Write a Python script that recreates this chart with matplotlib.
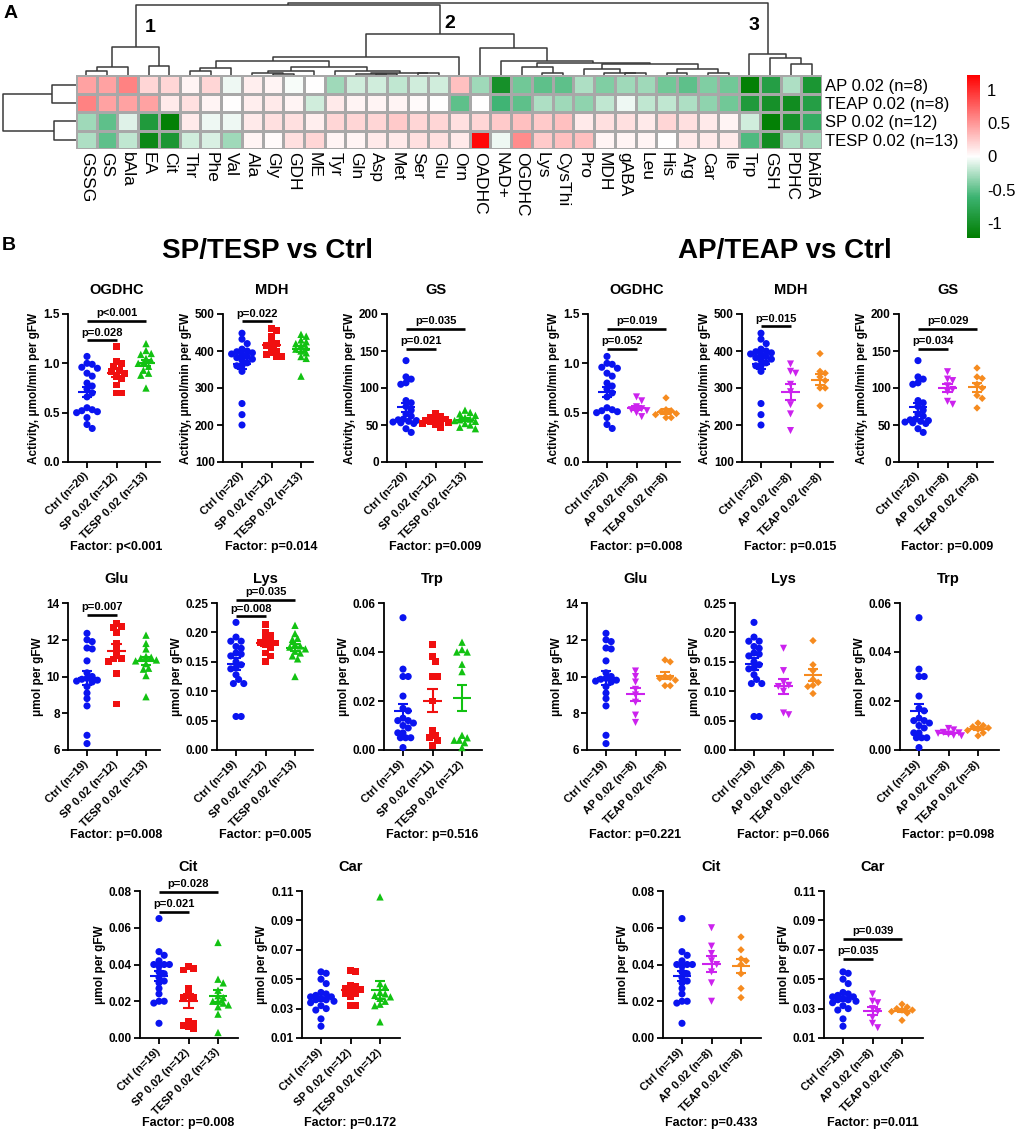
import numpy as np
import matplotlib
matplotlib.use("Agg")
import matplotlib.pyplot as plt
from matplotlib.colors import LinearSegmentedColormap, Normalize
import matplotlib.cm as cm

plt.rcParams['font.family'] = ['Liberation Sans', 'DejaVu Sans']

# ---------------- heatmap data (A) ----------------
hm_cols = ['GSSG', 'GS', 'bAla', 'EA', 'Cit', 'Thr', 'Phe', 'Val', 'Ala', 'Gly', 'GDH', 'ME',
           'Tyr', 'Gln', 'Asp', 'Met', 'Ser', 'Glu', 'Orn', 'OADHC', 'NAD+', 'OGDHC', 'Lys',
           'CysThi', 'Pro', 'MDH', 'gABA', 'Leu', 'His', 'Arg', 'Car', 'Ile', 'Trp', 'GSH',
           'PDHC', 'bAiBA']
hm_rows = ['AP 0.02 (n=8)', 'TEAP 0.02 (n=8)', 'SP 0.02 (n=12)', 'TESP 0.02 (n=13)']
hm_ap = [0.45, 0.45, 0.6, 0.2, 0.2, 0.05, 0.2, -0.05, 0.08, 0.05, -0.02, 0.0, -0.3, -0.15,
         -0.15, -0.2, -0.15, -0.15, 0.3, -0.3, -1.0, -0.45, -0.5, -0.5, -0.25, -0.4, -0.3,
         -0.3, -0.45, -0.5, -0.4, -0.45, -1.2, -0.85, -0.25, -0.95]
hm_teap = [0.6, 0.45, 0.45, 0.45, 0.1, 0.15, 0.05, 0.0, 0.08, 0.1, 0.05, -0.15, 0.1, 0.05,
           0.05, 0.05, 0.02, 0.0, -0.5, 0.0, -0.6, -0.5, -0.25, -0.3, -0.35, -0.2, -0.05,
           -0.2, -0.2, -0.25, -0.35, -0.45, -0.9, -1.0, -1.05, -0.85]
hm_sp = [-0.3, -0.5, -0.1, -0.9, -1.2, 0.1, -0.05, -0.05, 0.1, 0.15, 0.15, 0.08, 0.2, 0.2,
         0.2, 0.25, 0.2, 0.2, 0.15, 0.2, 0.25, 0.3, 0.25, 0.3, 0.1, 0.15, 0.15, 0.1, 0.2,
         0.15, 0.1, 0.05, -0.15, -1.2, -1.0, -0.7]
hm_tesp = [-0.25, -0.5, -0.2, -1.1, -0.95, -0.15, -0.12, -0.3, 0.05, 0.02, 0.15, 0.2, 0.05,
           0.05, 0.1, 0.1, 0.15, 0.15, 0.1, 1.2, -0.05, 0.55, 0.25, 0.3, 0.3, 0.05, 0.05,
           0.05, 0.0, 0.1, 0.1, 0.1, -0.55, -1.05, -0.25, -0.3]

# dendrograms: (child a, child b, height); ids >= n are earlier merges
col_merges = [(0, 1, 4.6), (36, 2, 8.0), (3, 4, 9.3), (37, 38, 28.0),
              (5, 6, 4.6), (40, 7, 7.0), (9, 10, 1.3), (8, 42, 2.0), (43, 11, 4.6),
              (14, 15, 1.0), (13, 45, 1.3), (16, 17, 1.8), (46, 47, 2.6), (12, 48, 4.3),
              (44, 49, 8.0), (41, 50, 14.6), (51, 18, 17.8),
              (22, 23, 2.0), (21, 53, 8.0), (26, 27, 2.0), (25, 55, 2.6), (24, 56, 6.0),
              (28, 29, 2.6), (30, 31, 2.0), (58, 59, 6.0), (57, 60, 11.3), (54, 61, 12.6),
              (20, 62, 14.6), (19, 63, 27.0), (52, 64, 41.0), (39, 65, 70.3),
              (34, 35, 11.0), (33, 67, 17.6), (32, 68, 21.3), (66, 69, 72.6)]
row_merges = [(0, 1, 24.6), (2, 3, 22.3), (4, 5, 73.6)]

# ---------------- scatter data (B) ----------------
ctrl_ogdhc = [1.07, 1.00, 0.99, 0.96, 0.95, 0.90, 0.87, 0.80, 0.77, 0.74, 0.70, 0.66, 0.55,
              0.53, 0.52, 0.51, 0.50, 0.45, 0.38, 0.34]
sp_ogdhc = [1.17, 1.02, 1.00, 0.97, 0.93, 0.92, 0.90, 0.87, 0.85, 0.78, 0.70, 0.70]
tesp_ogdhc = [1.20, 1.13, 1.10, 1.09, 1.05, 1.03, 1.00, 1.00, 0.97, 0.93, 0.90, 0.88, 0.75]
ap_ogdhc = [0.66, 0.62, 0.56, 0.54, 0.53, 0.52, 0.50, 0.46]
teap_ogdhc = [0.65, 0.53, 0.52, 0.51, 0.49, 0.48, 0.45, 0.45]

ctrl_mdh = [448, 432, 420, 405, 400, 398, 392, 390, 395, 385, 382, 378, 375, 368, 360, 360,
            345, 258, 228, 200]
sp_mdh = [460, 455, 440, 425, 420, 415, 410, 400, 395, 390, 385, 385]
tesp_mdh = [445, 440, 430, 425, 420, 415, 410, 405, 400, 395, 385, 380, 332]
ap_mdh = [365, 345, 340, 310, 290, 255, 230, 185]
teap_mdh = [393, 345, 340, 330, 320, 300, 300, 252]

ctrl_gs = [137, 115, 112, 107, 105, 83, 80, 75, 70, 65, 62, 58, 57, 56, 55, 54, 53, 52, 45, 40]
sp_gs = [65, 62, 60, 58, 57, 56, 55, 54, 53, 52, 50, 47]
tesp_gs = [70, 67, 65, 63, 60, 58, 57, 56, 55, 52, 50, 47, 45]
ap_gs = [122, 112, 110, 103, 98, 95, 82, 78]
teap_gs = [127, 115, 113, 105, 100, 90, 86, 73]

ctrl_glu = [12.35, 12.0, 11.9, 11.55, 11.5, 10.85, 10.2, 10.0, 9.9, 9.85, 9.8, 9.75, 9.7,
            9.45, 9.1, 8.8, 8.4, 6.8, 6.35]
sp_glu = [12.9, 12.7, 12.65, 12.4, 11.8, 11.5, 11.2, 11.0, 10.95, 10.8, 10.15, 8.5]
tesp_glu = [12.25, 11.8, 11.5, 11.1, 11.05, 11.0, 10.9, 10.85, 10.7, 10.45, 10.4, 10.05, 8.9]
ap_glu = [10.3, 10.0, 9.7, 9.3, 9.0, 8.6, 7.9, 7.5]
teap_glu = [10.9, 10.8, 10.0, 9.95, 9.9, 9.8, 9.5, 9.5]

ctrl_lys = [0.217, 0.192, 0.185, 0.185, 0.176, 0.173, 0.165, 0.163, 0.160, 0.150, 0.145,
            0.140, 0.138, 0.128, 0.120, 0.113, 0.113, 0.057, 0.057]
sp_lys = [0.214, 0.200, 0.195, 0.190, 0.185, 0.183, 0.182, 0.180, 0.175, 0.165, 0.160, 0.150]
tesp_lys = [0.212, 0.198, 0.190, 0.188, 0.180, 0.177, 0.175, 0.172, 0.168, 0.165, 0.160,
            0.155, 0.125]
ap_lys = [0.173, 0.135, 0.115, 0.110, 0.108, 0.100, 0.063, 0.060]
teap_lys = [0.186, 0.145, 0.135, 0.120, 0.115, 0.110, 0.108, 0.096]

ctrl_trp = [0.054, 0.033, 0.030, 0.030, 0.022, 0.017, 0.016, 0.013, 0.012, 0.012, 0.011,
            0.010, 0.009, 0.007, 0.007, 0.005, 0.005, 0.005, 0.001]
sp_trp = [0.043, 0.038, 0.036, 0.030, 0.030, 0.020, 0.008, 0.006, 0.005, 0.004, 0.002]
tesp_trp = [0.044, 0.041, 0.040, 0.040, 0.035, 0.032, 0.006, 0.005, 0.004, 0.004, 0.003,
            0.001]
ap_trp = [0.0088, 0.0082, 0.0072, 0.0070, 0.0068, 0.0065, 0.0060, 0.0058]
teap_trp = [0.0110, 0.0100, 0.0095, 0.0090, 0.0085, 0.0080, 0.0070, 0.0058]

ctrl_cit = [0.065, 0.047, 0.045, 0.042, 0.040, 0.040, 0.040, 0.039, 0.036, 0.035, 0.033,
            0.031, 0.030, 0.027, 0.024, 0.020, 0.020, 0.019, 0.008]
sp_cit = [0.039, 0.038, 0.037, 0.027, 0.022, 0.022, 0.023, 0.009, 0.008, 0.007, 0.006, 0.005]
tesp_cit = [0.052, 0.032, 0.030, 0.026, 0.023, 0.022, 0.020, 0.020, 0.019, 0.018, 0.017,
            0.013, 0.003]
ap_cit = [0.060, 0.050, 0.046, 0.042, 0.040, 0.036, 0.030, 0.020]
teap_cit = [0.055, 0.048, 0.043, 0.042, 0.040, 0.035, 0.027, 0.022]

ctrl_car = [0.055, 0.054, 0.050, 0.047, 0.041, 0.040, 0.039, 0.038, 0.038, 0.037, 0.036,
            0.036, 0.035, 0.034, 0.032, 0.030, 0.029, 0.023, 0.018]
sp_car = [0.056, 0.055, 0.046, 0.045, 0.044, 0.043, 0.042, 0.040, 0.040, 0.038, 0.032, 0.032]
tesp_car = [0.106, 0.047, 0.045, 0.041, 0.040, 0.039, 0.038, 0.037, 0.035, 0.033, 0.032,
            0.021]
ap_car = [0.040, 0.035, 0.034, 0.030, 0.028, 0.024, 0.020, 0.017]
teap_car = [0.033, 0.031, 0.030, 0.029, 0.029, 0.028, 0.027, 0.022]

# group styles
C_CTRL, C_SP, C_TESP, C_AP, C_TEAP = '#0a14f0', '#f01010', '#12c212', '#cc22ee', '#f68b1f'
sp_style = [('Ctrl', C_CTRL, 'o', 26), ('SP 0.02', C_SP, 's', 24), ('TESP 0.02', C_TESP, '^', 28)]
ap_style = [('Ctrl', C_CTRL, 'o', 26), ('AP 0.02', C_AP, 'v', 26), ('TEAP 0.02', C_TEAP, 'D', 14)]

act_lab = 'Activity, μmol/min per gFW'
conc_lab = 'μmol per gFW'

W, H = 1017, 1132
fig = plt.figure(figsize=(W / 100, H / 100), dpi=100)


def box(x0, y0, x1, y1):
    return [x0 / W, 1 - y1 / H, (x1 - x0) / W, (y1 - y0) / H]


def ftext(x, y, s, **kw):
    fig.text(x / W, 1 - y / H, s, **kw)


def draw_dendro(ax, merges, n, top=True):
    pos = {i: i + 0.5 for i in range(n)}
    hgt = {i: 0.0 for i in range(n)}
    for k, (a, b, h) in enumerate(merges):
        xs = [pos[a], pos[a], pos[b], pos[b]]
        ys = [hgt[a], h, h, hgt[b]]
        if top:
            ax.plot(xs, ys, color='#3a3a3a', lw=1.1, solid_capstyle='butt')
        else:
            ax.plot(ys, xs, color='#3a3a3a', lw=1.1, solid_capstyle='butt')
        pos[n + k] = (pos[a] + pos[b]) / 2
        hgt[n + k] = h


# ---------------- panel A ----------------
cmap = LinearSegmentedColormap.from_list('gwr', [(0, '#007d00'), (0.25, '#3cb371'),
                                                 (0.5, '#ffffff'), (1, '#ff0000')])
norm = Normalize(-1.23, 1.23)

ax_hm = fig.add_axes(box(76, 75.3, 822, 149))
M = np.array([hm_ap, hm_teap, hm_sp, hm_tesp])
ax_hm.pcolormesh(M, cmap=cmap, norm=norm, edgecolors='#a8a8a8', linewidth=0.9)
ax_hm.set_xlim(0, len(hm_cols))
ax_hm.set_ylim(len(hm_rows), 0)
ax_hm.set_xticks(np.arange(len(hm_cols)) + 0.5)
ax_hm.set_xticklabels(hm_cols, rotation=-90, fontsize=12.5, ha='center', va='top')
ax_hm.yaxis.tick_right()
ax_hm.set_yticks(np.arange(len(hm_rows)) + 0.5)
ax_hm.set_yticklabels(hm_rows, fontsize=12)
ax_hm.tick_params(length=0, pad=2)
for s in ax_hm.spines.values():
    s.set_visible(False)

ax_top = fig.add_axes(box(76, 0, 822, 75.3))
draw_dendro(ax_top, col_merges, len(hm_cols), top=True)
ax_top.set_xlim(0, len(hm_cols))
ax_top.set_ylim(0, 75.3)
ax_top.axis('off')

ax_left = fig.add_axes(box(0, 75.3, 76.3, 149))
draw_dendro(ax_left, row_merges, len(hm_rows), top=False)
ax_left.set_xlim(76.3, 0)
ax_left.set_ylim(len(hm_rows), 0)
ax_left.axis('off')

cax = fig.add_axes(box(967, 75, 980, 238))
cb = fig.colorbar(cm.ScalarMappable(norm=norm, cmap=cmap), cax=cax)
cb.outline.set_visible(False)
cb.set_ticks([-1, -0.5, 0, 0.5, 1])
cb.set_ticklabels(['-1', '-0.5', '0', '0.5', '1'])
cax.tick_params(length=0, labelsize=12, pad=5)

ftext(150, 28, '1', fontsize=14, fontweight='bold', ha='center', va='center')
ftext(450, 23, '2', fontsize=14, fontweight='bold', ha='center', va='center')
ftext(754, 26, '3', fontsize=14, fontweight='bold', ha='center', va='center')
ftext(11, 13, 'A', fontsize=14, fontweight='bold', ha='center', va='center')
ftext(9, 245, 'B', fontsize=14, fontweight='bold', ha='center', va='center')
ftext(267, 251, 'SP/TESP vs Ctrl', fontsize=20, fontweight='bold', ha='center', va='center')
ftext(785, 251, 'AP/TEAP vs Ctrl', fontsize=20, fontweight='bold', ha='center', va='center')


# ---------------- panel B ----------------
def swarm_x(ax, xc, vals, d=5.2, maxoff=13.0):
    disp = ax.transData.transform(np.column_stack([np.full(len(vals), xc), vals]))
    x0 = disp[0, 0]
    ys = disp[:, 1]
    placed = []
    offs = np.zeros(len(vals))
    cands = [0.0]
    step = d * 0.5
    k = 1
    while k * step <= maxoff:
        cands += [k * step, -k * step]
        k += 1
    for i in np.argsort(-ys):
        best, bestd = 0.0, -1
        for off in cands:
            md = min([np.hypot(off - px, ys[i] - py) for px, py in placed] + [1e9])
            if md >= d:
                best = off
                break
            if md > bestd:
                best, bestd = off, md
        placed.append((best, ys[i]))
        offs[i] = best
    inv = ax.transData.inverted()
    return inv.transform(np.column_stack([x0 + offs, ys]))[:, 0]


def panel(xy, title, groups, style, ylim, yticks, fmt, ylabel, factor, sig):
    x0, y0, x1, y1 = xy
    ax = fig.add_axes(box(x0, y0, x1, y1))
    sp = 29.5
    ax.set_xlim(-19 / sp, (x1 - x0 - 19) / sp)
    ax.set_ylim(*ylim)
    for gi, (vals, (name, col, mk, ms)) in enumerate(zip(groups, style)):
        v = np.array(vals, dtype=float)
        xs = swarm_x(ax, gi, v)
        ax.scatter(xs, v, s=ms, marker=mk, color=col, edgecolors='none', zorder=3,
                   clip_on=False)
        m = v.mean()
        se = v.std(ddof=1) / np.sqrt(len(v))
        ax.hlines(m, gi - 0.32, gi + 0.32, color=col, lw=1.5, zorder=4)
        ax.vlines(gi, m - se, m + se, color=col, lw=1.5, zorder=4)
        ax.hlines([m - se, m + se], gi - 0.17, gi + 0.17, color=col, lw=1.5, zorder=4)
    labels = ['%s (n=%d)' % (name, len(vals)) for vals, (name, c, mk, ms) in zip(groups, style)]
    ax.set_xticks(range(len(groups)))
    ax.set_xticklabels(labels, rotation=45, ha='right', va='center', rotation_mode='anchor',
                       fontsize=8, fontweight='bold')
    ax.set_yticks(yticks)
    ax.set_yticklabels([fmt.format(t) for t in yticks], fontsize=8.5, fontweight='bold')
    ax.set_ylabel(ylabel, fontsize=8.5, fontweight='bold', labelpad=2)
    for s in ['top', 'right']:
        ax.spines[s].set_visible(False)
    for s in ['left', 'bottom']:
        ax.spines[s].set_linewidth(1.3)
    ax.tick_params(direction='out', length=4, width=1.3, pad=2)
    ax.tick_params(axis='x', pad=5)
    ax.annotate(title, xy=(1, 1), xycoords=('data', 'axes fraction'), xytext=(0, 17.3),
                textcoords='offset points', ha='center', va='center', fontsize=10.5,
                fontweight='bold', annotation_clip=False)
    ax.annotate('Factor: ' + factor, xy=(1, 0), xycoords=('data', 'axes fraction'),
                xytext=(0, -61.5), textcoords='offset points', ha='center', va='center',
                fontsize=9, fontweight='bold', annotation_clip=False)
    for (a, b, yv, txt) in sig:
        ax.plot([a, b], [yv, yv], color='k', lw=1.9, clip_on=False, solid_capstyle='butt')
        ax.annotate(txt, xy=((a + b) / 2, yv), xytext=(0, 2), textcoords='offset points',
                    ha='center', va='bottom', fontsize=8, fontweight='bold',
                    annotation_clip=False)
    return ax


t_ogdhc = [0, 0.5, 1.0, 1.5]
t_mdh = [100, 200, 300, 400, 500]
t_gs = [0, 50, 100, 150, 200]
t_glu = [6, 8, 10, 12, 14]
t_lys = [0, 0.05, 0.10, 0.15, 0.20, 0.25]
t_trp = [0, 0.02, 0.04, 0.06]
t_cit = [0, 0.02, 0.04, 0.06, 0.08]
t_car = [0.01, 0.03, 0.05, 0.07, 0.09, 0.11]

R1, R2, R3 = (314, 462), (603, 750), (891, 1038)

# left block: SP / TESP
panel((68, R1[0], 160, R1[1]), 'OGDHC', [ctrl_ogdhc, sp_ogdhc, tesp_ogdhc], sp_style,
      (0, 1.5), t_ogdhc, '{:.1f}', act_lab, 'p<0.001',
      [(0, 1, 1.232, 'p=0.028'), (0, 2, 1.432, 'p<0.001')])
panel((223, R1[0], 313, R1[1]), 'MDH', [ctrl_mdh, sp_mdh, tesp_mdh], sp_style,
      (100, 500), t_mdh, '{:.0f}', act_lab, 'p=0.014', [(0, 1, 480, 'p=0.022')])
panel((387, R1[0], 482, R1[1]), 'GS', [ctrl_gs, sp_gs, tesp_gs], sp_style,
      (0, 200), t_gs, '{:.0f}', act_lab, 'p=0.009',
      [(0, 1, 152.5, 'p=0.021'), (0, 2, 179.6, 'p=0.035')])
panel((68, R2[0], 160, R2[1]), 'Glu', [ctrl_glu, sp_glu, tesp_glu], sp_style,
      (6, 14), t_glu, '{:.0f}', conc_lab, 'p=0.008', [(0, 1, 13.36, 'p=0.007')])
panel((217, R2[0], 313, R2[1]), 'Lys', [ctrl_lys, sp_lys, tesp_lys], sp_style,
      (0, 0.25), t_lys, '{:.2f}', conc_lab, 'p=0.005',
      [(0, 1, 0.2273, 'p=0.008'), (0, 2, 0.2557, 'p=0.035')])
panel((384, R2[0], 482, R2[1]), 'Trp', [ctrl_trp, sp_trp, tesp_trp], sp_style,
      (0, 0.06), t_trp, '{:.2f}', conc_lab, 'p=0.516', [])
panel((140, R3[0], 238, R3[1]), 'Cit', [ctrl_cit, sp_cit, tesp_cit], sp_style,
      (0, 0.08), t_cit, '{:.2f}', conc_lab, 'p=0.008',
      [(0, 1, 0.0688, 'p=0.021'), (0, 2, 0.0796, 'p=0.028')])
panel((302, R3[0], 400, R3[1]), 'Car', [ctrl_car, sp_car, tesp_car], sp_style,
      (0.01, 0.11), t_car, '{:.2f}', conc_lab, 'p=0.172', [])

# right block: AP / TEAP
panel((588, R1[0], 680, R1[1]), 'OGDHC', [ctrl_ogdhc, ap_ogdhc, teap_ogdhc], ap_style,
      (0, 1.5), t_ogdhc, '{:.1f}', act_lab, 'p=0.008',
      [(0, 1, 1.144, 'p=0.052'), (0, 2, 1.347, 'p=0.019')])
panel((742, R1[0], 833, R1[1]), 'MDH', [ctrl_mdh, ap_mdh, teap_mdh], ap_style,
      (100, 500), t_mdh, '{:.0f}', act_lab, 'p=0.015', [(0, 1, 466.5, 'p=0.015')])
panel((899, R1[0], 993, R1[1]), 'GS', [ctrl_gs, ap_gs, teap_gs], ap_style,
      (0, 200), t_gs, '{:.0f}', act_lab, 'p=0.009',
      [(0, 1, 152.5, 'p=0.034'), (0, 2, 179.6, 'p=0.029')])
panel((587, R2[0], 680, R2[1]), 'Glu', [ctrl_glu, ap_glu, teap_glu], ap_style,
      (6, 14), t_glu, '{:.0f}', conc_lab, 'p=0.221', [])
panel((735, R2[0], 833, R2[1]), 'Lys', [ctrl_lys, ap_lys, teap_lys], ap_style,
      (0, 0.25), t_lys, '{:.2f}', conc_lab, 'p=0.066', [])
panel((900, R2[0], 999, R2[1]), 'Trp', [ctrl_trp, ap_trp, teap_trp], ap_style,
      (0, 0.06), t_trp, '{:.2f}', conc_lab, 'p=0.098', [])
panel((663, R3[0], 761, R3[1]), 'Cit', [ctrl_cit, ap_cit, teap_cit], ap_style,
      (0, 0.08), t_cit, '{:.2f}', conc_lab, 'p=0.433', [])
panel((824, R3[0], 923, R3[1]), 'Car', [ctrl_car, ap_car, teap_car], ap_style,
      (0.01, 0.11), t_car, '{:.2f}', conc_lab, 'p=0.011',
      [(0, 1, 0.0638, 'p=0.035'), (0, 2, 0.0774, 'p=0.039')])

fig.savefig('out.png', dpi=100)
